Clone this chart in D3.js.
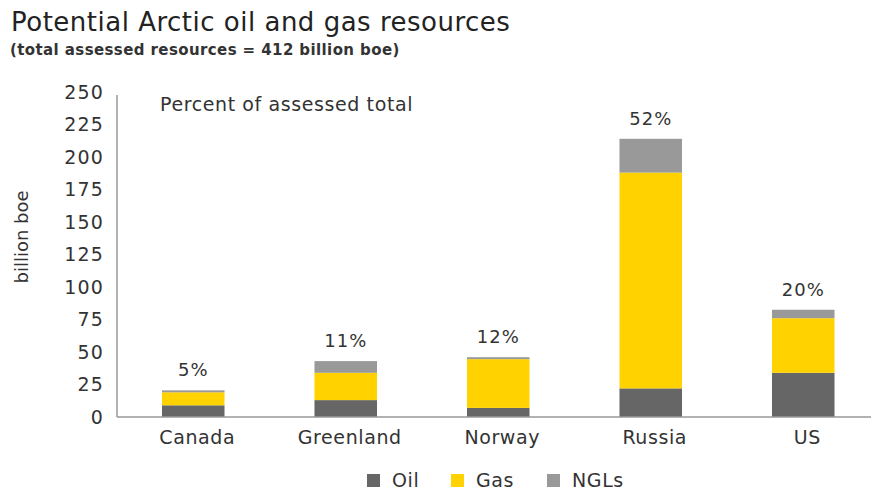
<!DOCTYPE html>
<html>
<head>
<meta charset="utf-8">
<script src="https://cdn.jsdelivr.net/npm/d3@7"></script>
<style>
  body { margin: 0; background: #fff; }
  svg { display: block; }
  text { font-family: "DejaVu Sans", "Open Sans", sans-serif; }
</style>
</head>
<body>
<svg id="chart" width="871" height="490"></svg>
<script>
// Arctic resources by country, billion barrels of oil equivalent
const countries = ["Canada", "Greenland", "Norway", "Russia", "US"];
const oil  = [9, 13, 7, 22, 34];
const gas  = [10, 21, 37.5, 166, 42];
const ngls = [1.5, 9, 1.5, 26, 6.5];
const shareLabels = ["5%", "11%", "12%", "52%", "20%"];
const seriesNames = ["Oil", "Gas", "NGLs"];
const yTicks = [0, 25, 50, 75, 100, 125, 150, 175, 200, 225, 250];

const colors = { Oil: "#666666", Gas: "#ffd200", NGLs: "#999999" };

const svg = d3.select("#chart");
const plotLeft = 117, plotBottom = 417, plotTop = 92;

const rows = countries.map((c, i) => ({ country: c, Oil: oil[i], Gas: gas[i], NGLs: ngls[i], share: shareLabels[i] }));
const stacked = d3.stack().keys(seriesNames)(rows);

const x = d3.scaleBand().domain(countries).range([plotLeft, 879.5]).paddingInner(0.59).paddingOuter(0.295);
const y = d3.scaleLinear().domain([0, 250]).range([plotBottom, plotTop]);

// Title block
svg.append("text").attr("x", 11).attr("y", 31)
  .attr("font-size", 26).attr("letter-spacing", 0.5).attr("fill", "#222")
  .text("Potential Arctic oil and gas resources");
svg.append("text").attr("x", 10).attr("y", 55)
  .attr("font-size", 15).attr("font-weight", "bold").attr("letter-spacing", 0.4).attr("fill", "#333")
  .text("(total assessed resources = 412 billion boe)");

// Y axis ticks (labels only)
svg.append("g").selectAll("text").data(yTicks).join("text")
  .attr("x", 104).attr("y", d => y(d)).attr("dy", "0.36em")
  .attr("text-anchor", "end").attr("font-size", 19).attr("letter-spacing", 1.2).attr("fill", "#333")
  .text(d => d);

// Y axis title
svg.append("text")
  .attr("transform", `translate(28,237) rotate(-90)`)
  .attr("text-anchor", "middle")
  .attr("font-family", "'Liberation Sans Narrow', 'Liberation Sans', sans-serif")
  .attr("font-size", 18).attr("fill", "#333")
  .text("billion boe");

// Stacked bars
svg.append("g").selectAll("g").data(stacked).join("g")
  .attr("fill", d => colors[d.key])
  .selectAll("rect").data(d => d).join("rect")
  .attr("x", d => x(d.data.country))
  .attr("width", x.bandwidth())
  .attr("y", d => y(d[1]))
  .attr("height", d => y(d[0]) - y(d[1]));

// Axis lines
svg.append("line").attr("x1", plotLeft).attr("x2", plotLeft).attr("y1", 95).attr("y2", plotBottom)
  .attr("stroke", "#999").attr("stroke-width", 1.5);
svg.append("line").attr("x1", plotLeft).attr("x2", 871).attr("y1", plotBottom).attr("y2", plotBottom)
  .attr("stroke", "#999").attr("stroke-width", 1.5);

// Share-of-total labels above bars
svg.append("g").selectAll("text").data(rows).join("text")
  .attr("x", d => x(d.country) + x.bandwidth() / 2)
  .attr("y", d => y(d.Oil + d.Gas + d.NGLs) - 14)
  .attr("text-anchor", "middle").attr("font-size", 18).attr("letter-spacing", 1).attr("fill", "#333")
  .text(d => d.share);

svg.append("text").attr("x", 160).attr("y", 111)
  .attr("font-size", 19).attr("letter-spacing", 0.6).attr("fill", "#333").text("Percent of assessed total");

// Category labels
svg.append("g").selectAll("text").data(countries).join("text")
  .attr("x", d => x(d) + x.bandwidth() / 2 + 4)
  .attr("y", 444)
  .attr("text-anchor", "middle").attr("font-size", 19).attr("letter-spacing", 0.6).attr("fill", "#333")
  .text(d => d);

// Legend
const legendX = [367, 451, 547];
const legend = svg.append("g").selectAll("g").data(seriesNames).join("g")
  .attr("transform", (d, i) => `translate(${legendX[i]},474)`);
legend.append("rect").attr("width", 13).attr("height", 13).attr("fill", d => colors[d]);
legend.append("text").attr("x", 25).attr("y", 13)
  .attr("font-size", 19).attr("letter-spacing", 0.6).attr("fill", "#333").text(d => d);
</script>
</body>
</html>
